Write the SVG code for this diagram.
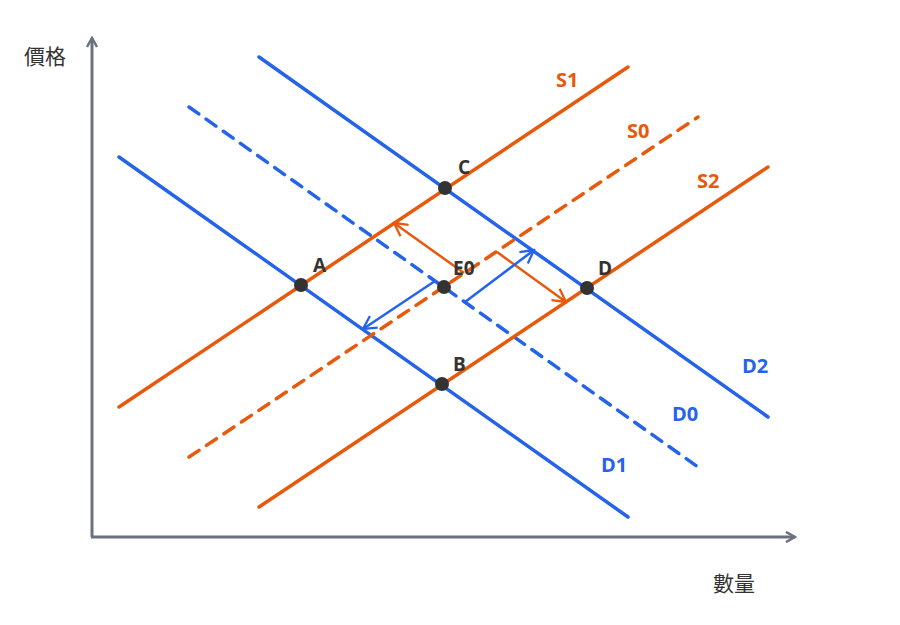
<svg xmlns="http://www.w3.org/2000/svg" width="900" height="625" viewBox="0 0 900 625">
<defs>
<style>
.ax{stroke:#6b717e;stroke-width:3;fill:none;stroke-linecap:butt}
.s{stroke:#e8590c;stroke-width:3.5;fill:none;stroke-linecap:round}
.d{stroke:#2563eb;stroke-width:3.5;fill:none;stroke-linecap:round}
.dash{stroke-dasharray:12 9}
.sa{stroke:#e8590c;stroke-width:2.5;fill:none}
.da{stroke:#2563eb;stroke-width:2.5;fill:none}
.lbl{font-family:"Open Sans","Liberation Sans",sans-serif;font-weight:bold;font-size:20px}
.pt{font-family:"Open Sans","Liberation Sans",sans-serif;font-weight:bold;font-size:19px;fill:#333}
.cjk{font-family:"Noto Sans CJK TC","Noto Sans",sans-serif;font-size:21px;fill:#333}
.dot{fill:#333}
</style>
<marker id="ah" viewBox="0 0 12 12" refX="10" refY="6" markerWidth="12" markerHeight="12" markerUnits="userSpaceOnUse" orient="auto">
<path d="M1,1 L10,6 L1,11" fill="none" stroke="#6b717e" stroke-width="2.5"/>
</marker>
<marker id="ahs" viewBox="0 0 16 16" refX="14" refY="8" markerWidth="16" markerHeight="16" markerUnits="userSpaceOnUse" orient="auto">
<path d="M1,1 L14,8 L1,15" fill="none" stroke="#e8590c" stroke-width="2.3"/>
</marker>
<marker id="ahd" viewBox="0 0 16 16" refX="14" refY="8" markerWidth="16" markerHeight="16" markerUnits="userSpaceOnUse" orient="auto">
<path d="M1,1 L14,8 L1,15" fill="none" stroke="#2563eb" stroke-width="2.3"/>
</marker>
</defs>
<rect width="900" height="625" fill="#fff"/>
<g id="axes">
<line class="ax" x1="92" y1="537" x2="92" y2="38" marker-end="url(#ah)"/>
<line class="ax" x1="91" y1="537" x2="795" y2="537" marker-end="url(#ah)"/>
<text class="cjk" x="24" y="64">價格</text>
<text class="cjk" x="713" y="591">數量</text>
</g>
<g id="connectors">
<line id="D1" class="d" x1="119" y1="157" x2="628" y2="517"/>
<line id="D0" class="d dash" x1="189" y1="107" x2="698" y2="467"/>
<line id="D2" class="d" x1="259" y1="57" x2="768" y2="417"/>
<line id="S1" class="s" x1="119" y1="407" x2="628" y2="67"/>
<line id="S0" class="s dash" x1="189" y1="457" x2="698" y2="117"/>
<line id="S2" class="s" x1="259" y1="507" x2="768" y2="167"/>
<line class="sa" x1="464" y1="273" x2="394" y2="223" marker-end="url(#ahs)"/>
<line class="sa" x1="497" y1="252" x2="566" y2="302" marker-end="url(#ahs)"/>
<line class="da" x1="435" y1="281" x2="363" y2="329" marker-end="url(#ahd)"/>
<line class="da" x1="465" y1="302" x2="534" y2="250" marker-end="url(#ahd)"/>
</g>
<g id="labels">
<text class="lbl" x="556" y="87" fill="#e8590c">S1</text>
<text class="lbl" x="627" y="138" fill="#e8590c">S0</text>
<text class="lbl" x="697" y="188" fill="#e8590c">S2</text>
<text class="lbl" x="742" y="373" fill="#2563eb">D2</text>
<text class="lbl" x="672" y="421" fill="#2563eb">D0</text>
<text class="lbl" x="601" y="472" fill="#2563eb">D1</text>
</g>
<g id="A"><circle class="dot" cx="301" cy="285" r="7"/><text class="pt" x="313" y="272">A</text></g>
<g id="B"><circle class="dot" cx="442" cy="384" r="7"/><text class="pt" x="453" y="371">B</text></g>
<g id="C"><circle class="dot" cx="445" cy="188" r="7"/><text class="pt" x="458" y="174">C</text></g>
<g id="D"><circle class="dot" cx="587" cy="288" r="7"/><text class="pt" x="598" y="275">D</text></g>
<g id="E0"><circle class="dot" cx="444" cy="287" r="7"/><text class="pt" x="453" y="275">E0</text></g>
</svg>
